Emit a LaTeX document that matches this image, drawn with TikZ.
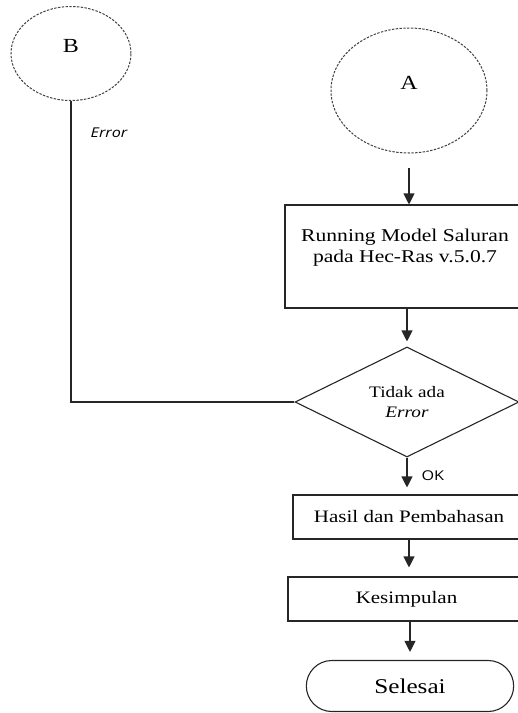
\documentclass[tikz,border=0pt]{standalone}
\usepackage{fontspec}
\setmainfont{Liberation Serif}[FakeStretch=1.2]
\newfontfamily\sansf{Open Sans}[FakeStretch=1.2]
\usetikzlibrary{shapes.geometric,shapes.misc,arrows.meta}
\begin{document}
\begin{tikzpicture}[x=1pt,y=-1pt,
  ln/.style={line width=1.1pt, draw=black!85},
  arr/.style={ln, -{Triangle[width=11pt,length=11pt]}},
  term/.style={ellipse, draw=black!75, dash pattern=on 2.4pt off 1.4pt, line width=1pt,
    inner sep=0pt, text height=14pt, text depth=16pt, font=\fontsize{20}{24}\selectfont},
  procbox/.style={rectangle, ln, inner sep=0pt},
  lbl/.style={font=\sansf\fontsize{13.5}{15}\selectfont, inner sep=0pt}
]
\useasboundingbox (0,0) rectangle (518,713);
\clip (0,0) rectangle (518,713);

\node[term, minimum width=120pt, minimum height=94pt] (B) at (71,53.5) {B};
\node[term, minimum width=156pt, minimum height=125pt] (A) at (409,90.5) {A};

\node[procbox, minimum width=240pt, minimum height=103pt] (run) at (405,256.5) {};
\node[font=\fontsize{18}{21}\selectfont, align=center, inner sep=0pt] (runtxt) at (405,248)
  {Running Model Saluran\\pada Hec-Ras v.5.0.7};

\node[diamond, ln, minimum width=224pt, minimum height=110pt, inner sep=0pt, align=center,
  font=\fontsize{16}{20}\selectfont] (dia) at (407,402) {Tidak ada\\\textit{Error}};

\node[procbox, minimum width=232pt, minimum height=44pt, font=\fontsize{17.5}{20}\selectfont]
  (hasil) at (409,517) {Hasil dan Pembahasan};
\node[procbox, minimum width=237pt, minimum height=44pt, font=\fontsize{17.5}{20}\selectfont]
  (kes) at (406.5,599) {Kesimpulan};
\node[rounded rectangle, ln, minimum width=214pt, minimum height=51pt,
  font=\fontsize{21}{24}\selectfont] (sel) at (410,686) {Selesai};

\node[lbl, font=\sansf\itshape\fontsize{13.5}{15}\selectfont] (err) at (109,133) {Error};

\draw[ln] (B.south) |- (dia.west);
\draw[arr, shorten <=14pt] (A.south) -- (A.south |- run.north);
\draw[arr, shorten >=5pt] (dia.north |- run.south) -- (dia.north);
\draw[arr, shorten >=7pt] (dia.south) -- node[lbl, right=14pt] (ok) {OK} (dia.south |- hasil.north);
\draw[arr, shorten >=9pt] (hasil.south) -- (hasil.south |- kes.north);
\draw[arr, shorten >=8pt] (kes.south -| sel.north) -- (sel.north);
\end{tikzpicture}
\end{document}
